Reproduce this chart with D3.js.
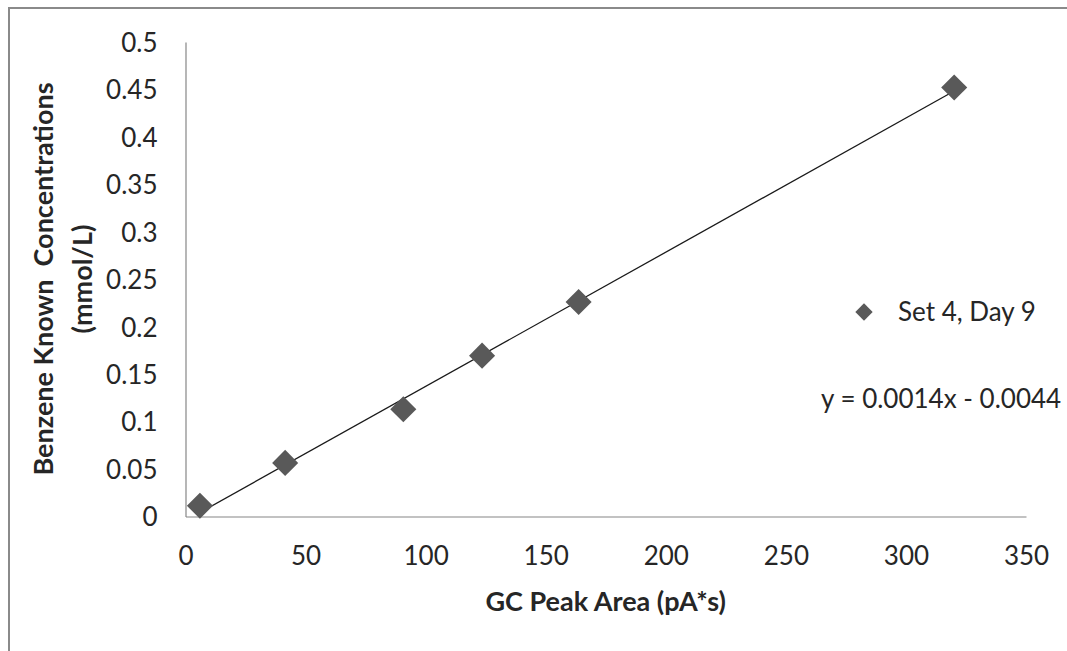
<!DOCTYPE html>
<html>
<head>
<meta charset="utf-8">
<script src="https://cdn.jsdelivr.net/npm/d3@7"></script>
<style>
  html, body { margin: 0; padding: 0; background: #fff; overflow: hidden; }
  svg { display: block; }
  text { font-family: Lato, "Open Sans", sans-serif; fill: #262626; }
</style>
</head>
<body>
<svg id="chart" width="1067" height="651"></svg>
<script>
// Calibration points: GC peak area vs. known benzene concentration
const peakAreas = [6.0, 41.5, 90.7, 123.5, 163.7, 320.1];
const concentrations = [0.0113, 0.0565, 0.113, 0.1695, 0.226, 0.452];
const xTicks = [0, 50, 100, 150, 200, 250, 300, 350];
const yTicks = [0, 0.05, 0.1, 0.15, 0.2, 0.25, 0.3, 0.35, 0.4, 0.45, 0.5];
const seriesName = "Set 4, Day 9";
const xTitle = "GC Peak Area (pA*s)";
const yTitleLines = ["Benzene Known  Concentrations", "(mmol/L)"];

const svg = d3.select("#chart");

// outer chart frame
svg.append("rect")
  .attr("x", 9).attr("y", 8)
  .attr("width", 1200).attr("height", 800)
  .attr("fill", "none")
  .attr("stroke", "#8a8a8a")
  .attr("stroke-width", 2);

const x = d3.scaleLinear().domain([0, 350]).range([185.5, 1026]);
const y = d3.scaleLinear().domain([0, 0.5]).range([516.5, 42]);

// axes: plain gray lines with labels, no tick marks
const xAxis = svg.append("g")
  .attr("transform", `translate(0,${y(0)})`)
  .call(d3.axisBottom(x).tickValues(xTicks).tickSize(0).tickPadding(30)
    .tickFormat(d3.format("d")));
const yAxis = svg.append("g")
  .attr("transform", `translate(${x(0)},0)`)
  .call(d3.axisLeft(y).tickValues(yTicks).tickSize(0).tickPadding(28)
    .tickFormat(d => d === 0 ? "0" : String(+d.toFixed(2))));

[xAxis, yAxis].forEach(g => {
  g.select(".domain").attr("stroke", "#868686").attr("stroke-width", 1.2);
  g.selectAll("text")
    .style("font-family", "Lato, 'Open Sans', sans-serif")
    .style("font-size", "26px")
    .attr("fill", "#262626");
});
yAxis.selectAll("text").attr("dy", "0.36em");

// least-squares linear fit
const n = peakAreas.length;
const mx = d3.mean(peakAreas), my = d3.mean(concentrations);
let sxy = 0, sxx = 0;
for (let i = 0; i < n; i++) {
  sxy += (peakAreas[i] - mx) * (concentrations[i] - my);
  sxx += (peakAreas[i] - mx) ** 2;
}
const slope = sxy / sxx;
const intercept = my - slope * mx;
const [xMin, xMax] = d3.extent(peakAreas);

const line = d3.line().x(d => x(d)).y(d => y(slope * d + intercept));
svg.append("path")
  .datum([xMin, xMax])
  .attr("d", line)
  .attr("fill", "none")
  .attr("stroke", "#1a1a1a")
  .attr("stroke-width", 1.3);

// diamond markers
const diamond = d3.symbol().type(d3.symbolSquare);
svg.append("g").selectAll("path")
  .data(d3.zip(peakAreas, concentrations))
  .join("path")
  .attr("d", diamond.size(340))
  .attr("transform", d => `translate(${x(d[0])},${y(d[1])}) rotate(45)`)
  .attr("fill", "#595959");

// legend
const legend = svg.append("g");
legend.append("path")
  .attr("d", d3.symbol().type(d3.symbolSquare).size(150)())
  .attr("transform", "translate(864,312) rotate(45)")
  .attr("fill", "#595959");
legend.append("text")
  .attr("x", 898).attr("y", 321)
  .style("font-size", "26px")
  .text(seriesName);

// trendline equation
const fmt = d3.format(".4f");
const eq = `y = ${fmt(slope)}x ${intercept < 0 ? "-" : "+"} ${fmt(Math.abs(intercept))}`;
svg.append("text")
  .attr("x", 821).attr("y", 408)
  .style("font-size", "26px")
  .text(eq);

// axis titles
svg.append("text")
  .attr("x", (x(0) + x(350)) / 2).attr("y", 611)
  .attr("text-anchor", "middle")
  .style("font-size", "27px").style("font-weight", "bold")
  .text(xTitle);

const yt = svg.append("text")
  .attr("transform", "translate(53,279) rotate(-90)")
  .attr("text-anchor", "middle")
  .style("font-size", "27px").style("font-weight", "bold");
yTitleLines.forEach((s, i) => {
  yt.append("tspan")
    .attr("x", 0).attr("dy", i === 0 ? 0 : 39)
    .attr("xml:space", "preserve")
    .style("white-space", "pre")
    .text(s);
});
</script>
</body>
</html>
